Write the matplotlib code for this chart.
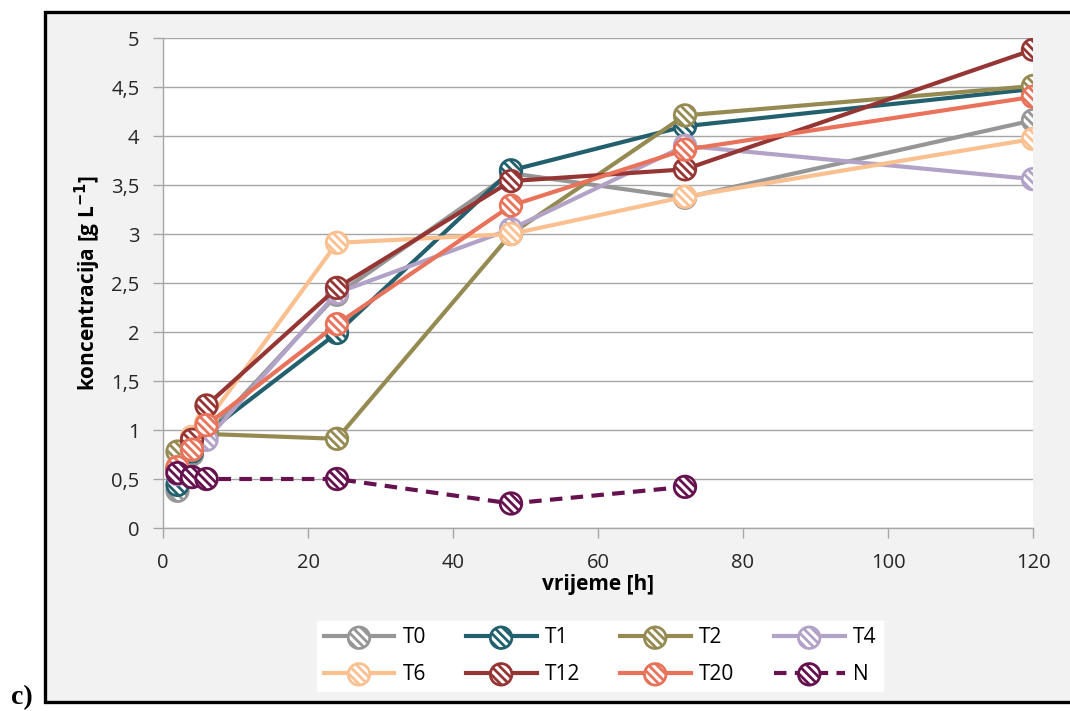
import matplotlib
matplotlib.use("Agg")
import matplotlib.pyplot as plt
from matplotlib.patches import Rectangle
from matplotlib.legend_handler import HandlerTuple
from matplotlib.ticker import FuncFormatter

# vrijeme uzorkovanja [h]
time_h = [2, 4, 6, 24, 48, 72, 120]
time_n = [2, 4, 6, 24, 48, 72]

t0 = [0.38, 0.75, 0.95, 2.38, 3.62, 3.37, 4.16]
t1 = [0.44, 0.78, 0.97, 1.99, 3.65, 4.10, 4.48]
t2 = [0.78, 0.85, 0.96, 0.91, 3.00, 4.21, 4.51]
t4 = [0.55, 0.80, 0.90, 2.40, 3.05, 3.90, 3.56]
t6 = [0.62, 0.93, 1.08, 2.91, 3.00, 3.38, 3.97]
t12 = [0.60, 0.90, 1.25, 2.45, 3.54, 3.66, 4.88]
t20 = [0.62, 0.80, 1.05, 2.08, 3.29, 3.86, 4.40]
n_ctrl = [0.56, 0.52, 0.50, 0.50, 0.25, 0.42]

series = [
    ("T0", time_h, t0, "#969696", "-"),
    ("T1", time_h, t1, "#22606E", "-"),
    ("T2", time_h, t2, "#958B52", "-"),
    ("T4", time_h, t4, "#B3A2C7", "-"),
    ("T6", time_h, t6, "#FAC090", "-"),
    ("T12", time_h, t12, "#963634", "-"),
    ("T20", time_h, t20, "#E8735A", "-"),
    ("N", time_n, n_ctrl, "#65124F", "--"),
]

plt.rcParams["font.family"] = ["Open Sans", "DejaVu Sans"]
plt.rcParams["hatch.linewidth"] = 2.0

fig = plt.figure(figsize=(10.7, 7.11), dpi=100, facecolor="white")

# sivi okvir grafikona
fig.patches.append(Rectangle(
    (44.5 / 1070, 1 - 702 / 711), 1.0, (702 - 11.5) / 711,
    transform=fig.transFigure, facecolor="#F2F2F2", edgecolor="black",
    linewidth=2.4, zorder=-5,
))

ax = fig.add_axes([163 / 1070, 1 - 528 / 711, 870 / 1070, 490 / 711])
ax.set_facecolor("white")

handles = []
for i, (name, x, y, color, ls) in enumerate(series):
    z = 3 + i
    line, = ax.plot(x, y, color=color, lw=3.0, ls=ls, zorder=z,
                    dashes=(3, 2) if ls == "--" else (None, None))
    pts = ax.scatter(x, y, s=240, facecolor="white", edgecolor=color,
                     linewidths=2.0, hatch="\\\\\\\\", zorder=z + 0.5)
    handles.append((line, pts))

ax.set_xlim(0, 120)
ax.set_ylim(0, 5)
ax.set_xticks(range(0, 121, 20))
ax.set_yticks([i * 0.5 for i in range(11)])
ax.yaxis.set_major_formatter(FuncFormatter(lambda v, _: f"{v:g}".replace(".", ",")))
ax.grid(axis="y", color="#A6A6A6", linewidth=1.0, zorder=1)
ax.set_axisbelow(True)

for side in ("top", "right"):
    ax.spines[side].set_visible(False)
for side in ("left", "bottom"):
    ax.spines[side].set_color("#A6A6A6")
    ax.spines[side].set_linewidth(1.0)

ax.tick_params(axis="both", direction="out", length=7, width=1.0,
               color="#A6A6A6", labelsize=14.5, labelcolor="#262626")
ax.tick_params(axis="y", pad=10)
ax.tick_params(axis="x", pad=11)

ax.set_xlabel("vrijeme [h]", fontsize=15, fontweight="bold", labelpad=1)
ax.set_ylabel(r"koncentracija [g L$^{\mathbf{-1}}$]", fontsize=15,
              fontweight="bold", labelpad=6)

# legenda se puni po stupcima, pa redoslijed slažemo tako da redovi idu T0..T4, T6..N
order = [0, 4, 1, 5, 2, 6, 3, 7]
leg = fig.legend(
    [handles[k] for k in order], [series[k][0] for k in order],
    handler_map={tuple: HandlerTuple(ndivide=1, pad=0)},
    loc="center", bbox_to_anchor=(600 / 1070, 1 - 656 / 711),
    ncol=4, fontsize=15, frameon=True, fancybox=False,
    edgecolor="white", facecolor="white", framealpha=1.0,
    handlelength=3.4, handletextpad=0.4, columnspacing=1.9,
    labelspacing=0.75, borderpad=0.3, scatterpoints=1,
)

fig.text(11 / 1070, 1 - 704 / 711, "c)", fontsize=20, fontweight="bold",
         family=["Liberation Serif", "DejaVu Serif"], ha="left", va="baseline")

fig.savefig("out.png", dpi=100, facecolor=fig.get_facecolor())
